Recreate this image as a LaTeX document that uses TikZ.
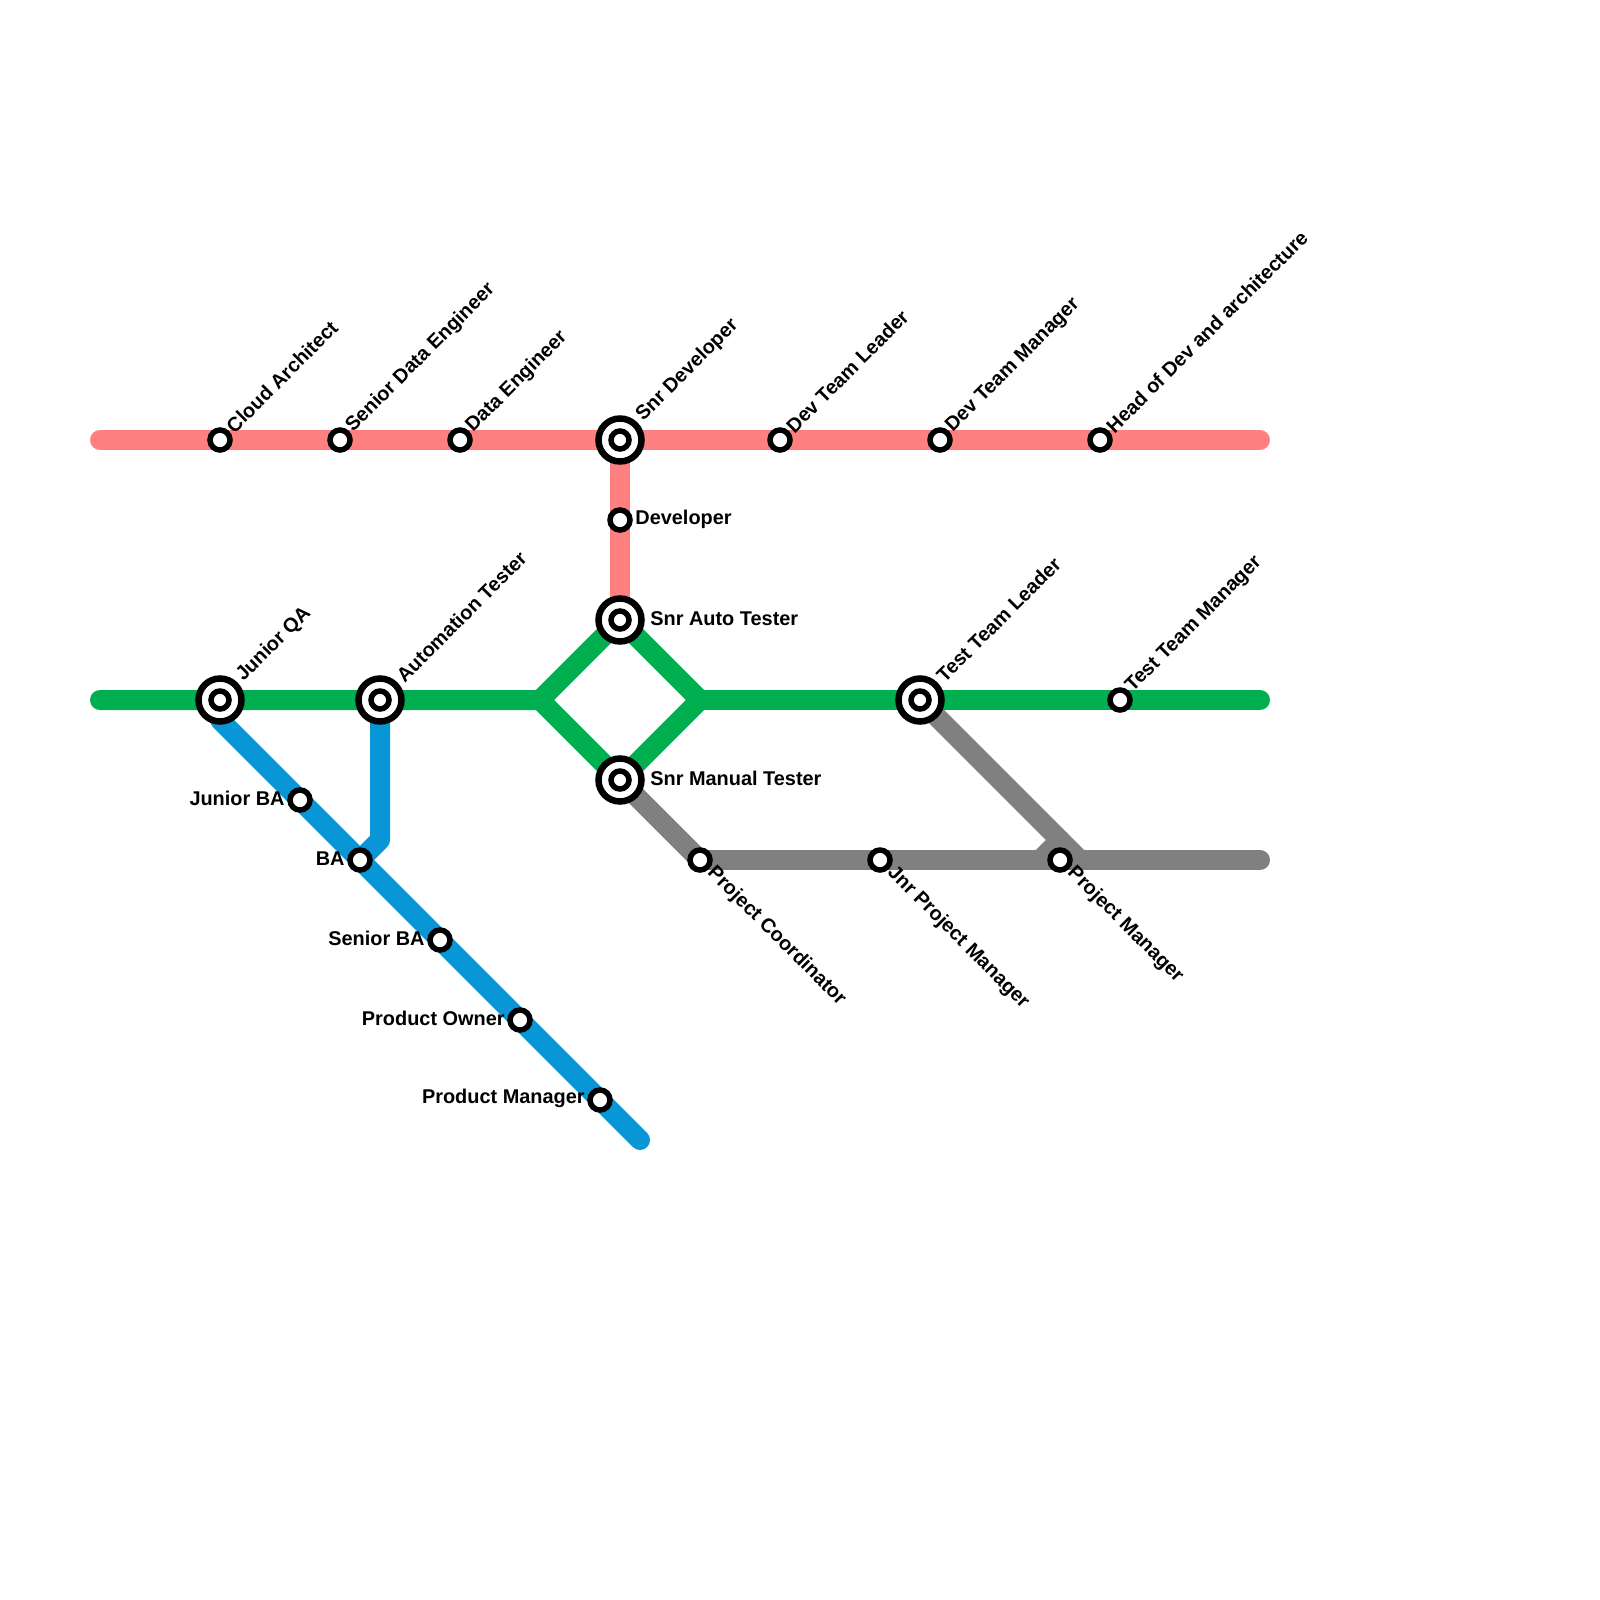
\documentclass[tikz,border=0pt]{standalone}
\usepackage{xcolor}
\usepackage{fontspec}
\setmainfont{Liberation Sans}
\usetikzlibrary{positioning, backgrounds}
\definecolor{redline}{RGB}{255, 128, 128}
\definecolor{greenline}{RGB}{0, 176, 80}
\definecolor{blueline}{RGB}{8, 150, 215}
\definecolor{greyline}{RGB}{128, 128, 128}

\begin{document}
\begin{tikzpicture}[
    x=0.5pt, y=-0.5pt,
    on grid,
    stop/.style={circle, draw=black, fill=white, line width=2.75pt, minimum size=10pt, inner sep=0pt, outer sep=0pt},
    bigstop/.style={circle, draw=black, fill=white, line width=3.25pt, minimum size=21.5pt, inner sep=0pt, outer sep=0pt,
        path picture={\draw[line width=2.75pt] (path picture bounding box.center) circle (4.5pt);}},
    metro/.style={line width=10pt, line cap=round, line join=round},
    metrostub/.style={line width=10pt, line cap=butt, shorten <=11.5pt},
    stoplabel/.style={font=\bfseries\fontsize{9.95}{11}\selectfont, text=black, inner sep=0pt},
    upname/.style={stoplabel, anchor=west, rotate=45, xshift=7pt, yshift=0.5pt},
    bigupname/.style={stoplabel, anchor=west, rotate=45, xshift=14.5pt, yshift=0.7pt},
    downname/.style={stoplabel, anchor=west, rotate=-45, xshift=7.1pt, yshift=0.1pt},
    rightname/.style={stoplabel, anchor=west, xshift=7.5pt, yshift=0.3pt},
    bigrightname/.style={stoplabel, anchor=west, xshift=15pt, yshift=0.8pt},
    leftname/.style={stoplabel, anchor=east, xshift=-7.5pt, yshift=0.6pt}
]
\useasboundingbox (0,0) rectangle (1600,1600);

% top line
\node[stop] (cloud) at (220,440) {};
\node[stop, right=60pt of cloud] (seniordata) {};
\node[stop, right=60pt of seniordata] (dataeng) {};
\node[bigstop] (snrdev) at (620,440) {};
\node[stop] (devlead) at (780,440) {};
\node[stop] (devmgr) at (940,440) {};
\node[stop] (headdev) at (1100,440) {};
\node[stop, below=40pt of snrdev] (developer) {};

% middle line
\node[bigstop] (juniorqa) at (220,700) {};
\node[bigstop] (autotester) at (380,700) {};
\node[bigstop] (snrauto) at (620,620) {};
\node[bigstop] (snrmanual) at (620,780) {};
\node[bigstop] (testlead) at (920,700) {};
\node[stop] (testmgr) at (1120,700) {};

% BA line
\node[stop] (juniorba) at (300,800) {};
\node[stop, below right=30pt and 30pt of juniorba] (ba) {};
\node[stop, below right=40pt and 40pt of ba] (seniorba) {};
\node[stop, below right=40pt and 40pt of seniorba] (owner) {};
\node[stop, below right=40pt and 40pt of owner] (prodmgr) {};

% project line
\node[stop] (coordinator) at (700,860) {};
\node[stop] (jnrpm) at (880,860) {};
\node[stop] (projmgr) at (1060,860) {};

\coordinate (redwest) at (100,440);
\coordinate (redeast) at (1260,440);
\coordinate (greenwest) at (100,700);
\coordinate (greeneast) at (1260,700);
\coordinate (forkwest) at (540,700);
\coordinate (forkeast) at (700,700);
\coordinate (bluetop) at (220,720);
\coordinate (blueend) at (640,1140);
\coordinate (bluebend) at (380,840);
\coordinate (greyeast) at (1260,860);
\coordinate (greyjoin) at (1080,860);
\coordinate (greybend) at (1060,840);
\coordinate (greyspur) at (1040,860);

\begin{scope}[on background layer]
\draw[metrostub, greyline] (snrmanual.center) -- (coordinator.center);
\draw[metro, greyline] (coordinator.center) -- (greyeast);
\draw[metrostub, greyline] (testlead.center) -- (greyjoin);
\draw[metro, greyline] (greybend) -- (greyspur);
\draw[metro, blueline] (juniorqa.center) -- (bluetop) -- (blueend);
\draw[metro, blueline] (autotester.center) -- (bluebend) -- (ba.center);
\draw[metro, redline] (redwest) -- (redeast);
\draw[metro, redline] (snrdev.center) -- (snrauto.center);
\draw[metro, greenline] (greenwest) -- (forkwest) -- (snrauto.center) -- (forkeast) -- (snrmanual.center) -- (forkwest);
\draw[metro, greenline] (forkeast) -- (greeneast);
\end{scope}

\node[upname] (cloudname) at (cloud) {Cloud Architect};
\node[upname] (seniordataname) at (seniordata) {Senior Data Engineer};
\node[upname] (dataengname) at (dataeng) {Data Engineer};
\node[bigupname] (snrdevname) at (snrdev) {Snr Developer};
\node[upname] (devleadname) at (devlead) {Dev Team Leader};
\node[upname] (devmgrname) at (devmgr) {Dev Team Manager};
\node[upname] (headdevname) at (headdev) {Head of Dev and architecture};
\node[rightname] (developername) at (developer) {Developer};
\node[bigupname] (juniorqaname) at (juniorqa) {Junior QA};
\node[bigupname] (autotestername) at (autotester) {Automation Tester};
\node[bigrightname] (snrautoname) at (snrauto) {Snr Auto Tester};
\node[bigrightname] (snrmanualname) at (snrmanual) {Snr Manual Tester};
\node[bigupname] (testleadname) at (testlead) {Test Team Leader};
\node[upname] (testmgrname) at (testmgr) {Test Team Manager};
\node[leftname] (juniorbaname) at (juniorba) {Junior BA};
\node[leftname] (baname) at (ba) {BA};
\node[leftname] (seniorbaname) at (seniorba) {Senior BA};
\node[leftname] (ownername) at (owner) {Product Owner};
\node[leftname] (prodmgrname) at (prodmgr) {Product Manager};
\node[downname] (coordinatorname) at (coordinator) {Project Coordinator};
\node[downname] (jnrpmname) at (jnrpm) {Jnr Project Manager};
\node[downname] (projmgrname) at (projmgr) {Project Manager};
\end{tikzpicture}
\end{document}
